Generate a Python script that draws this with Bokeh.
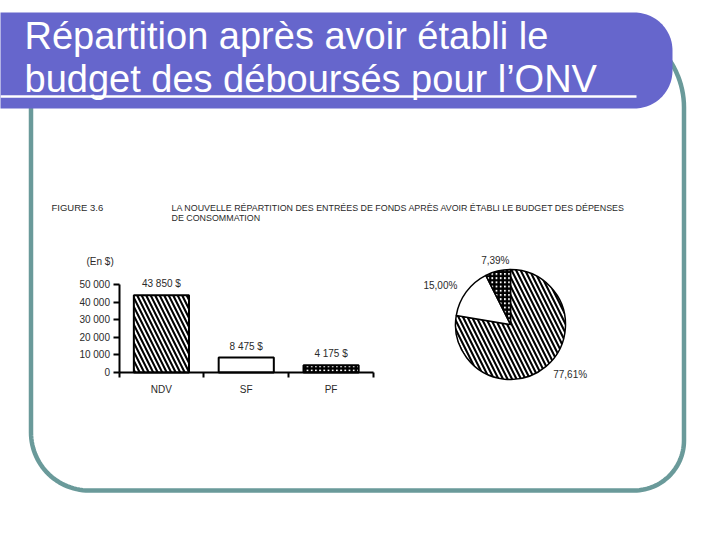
import numpy as np
from bokeh.plotting import figure
from bokeh.models import Range1d, LinearAxis, FixedTicker, ColumnDataSource
from bokeh.embed import file_html
from bokeh.resources import INLINE
from bokeh.core.properties import value

# ---------------- data ----------------
title_lines = ["Répartition après avoir établi le", "budget des déboursés pour l’ONV"]
figure_label = "FIGURE  3.6"
caption_lines = ["LA NOUVELLE RÉPARTITION DES ENTRÉES DE FONDS APRÈS AVOIR ÉTABLI LE BUDGET DES DÉPENSES",
                 "DE CONSOMMATION"]
unit_label = "(En $)"
categories = ["NDV", "SF", "PF"]
amounts = [43850, 8475, 4175]
y_ticks = [0, 10000, 20000, 30000, 40000, 50000]

# ---------------- styles ----------------
FONT = value("Liberation Sans")
INK = "#2a2a2a"
fills = ["white", "white", "white"]
hatches = ["left_diagonal_line", "blank", "cross"]
hatch_scales = [9.0, 6.0, 4.2]
hatch_weights = [2.1, 1.0, 2.6]

W, H = 704, 524
X0, Y0 = 0, 0


def span(px_a, px_b, v_a, v_b, c_lo, c_hi):
    k = (v_b - v_a) / (px_b - px_a)
    return Range1d(start=v_a + (c_lo - px_a) * k, end=v_a + (c_hi - px_a) * k)


p = figure(width=W, height=H, x_range=Range1d(X0, X0 + W), y_range=Range1d(Y0 + H, Y0),
           output_backend="svg", toolbar_location=None, x_axis_location=None,
           y_axis_location=None, min_border=0, outline_line_color=None)
p.grid.visible = False
p.background_fill_color = "white"

# ranges for bar chart and pie (layout placement)
p.extra_x_ranges = {"bx": span(118.5, 373, 0, 3, X0, X0 + W),
                    "px": span(510, 565, 0, 1, X0, X0 + W)}
p.extra_y_ranges = {"by": span(372, 284, 0, 50000, Y0 + H, Y0),
                    "py": span(324, 269, 0, 1, Y0 + H, Y0)}


def rrect(l, t, r, b, rtl, rtr, rbr, rbl, n=30):
    xs, ys = [], []
    for (cx, cy, R, a0, a1) in [(r - rtr, t + rtr, rtr, -90, 0), (r - rbr, b - rbr, rbr, 0, 90),
                                (l + rbl, b - rbl, rbl, 90, 180), (l + rtl, t + rtl, rtl, 180, 270)]:
        a = np.radians(np.linspace(a0, a1, n))
        xs += list(cx + R * np.cos(a))
        ys += list(cy + R * np.sin(a))
    return xs, ys


# slide frame
fx, fy = rrect(30.5, 22, 683.5, 490, 85, 85, 50, 58)
p.patch(fx, fy, fill_alpha=0, line_color="#6a9a9a", line_width=4.5)
# header
hx, hy = rrect(-10, 12, 672, 108, 0, 38, 38, 0)
p.patch(hx, hy, fill_color="#6666cc", line_color=None)
p.segment(x0=[0], y0=[96], x1=[636], y1=[96], line_color="white", line_width=2.5)
p.text(x=[24, 24], y=[35, 78], text=title_lines, text_font=FONT, text_font_size="38px",
       text_color="white", text_baseline="alphabetic")

# figure caption
p.text(x=[51], y=[207], text=[figure_label], text_font=FONT, text_font_size="9.5px",
       text_color=INK, text_baseline="middle")
p.text(x=[171, 171], y=[207, 217], text=caption_lines, text_font=FONT, text_font_size="8.9px",
       text_color=INK, text_baseline="middle")
p.text(x=[86], y=[261], text=[unit_label], text_font=FONT, text_font_size="10px",
       text_color=INK, text_baseline="middle")

# ---------------- bar chart ----------------
xc = [i + 0.5 for i in range(len(categories))]
bar_labels = [f"{v:,} $".replace(",", " ") for v in amounts]
bsrc = ColumnDataSource(dict(x=xc, top=amounts, fill=fills, hatch=hatches,
                             hs=hatch_scales, hw=hatch_weights, lab=bar_labels))
p.vbar(x="x", top="top", bottom=0, width=0.65, source=bsrc, x_range_name="bx", y_range_name="by",
       fill_color="fill", hatch_pattern="hatch", hatch_color="black", hatch_scale="hs",
       hatch_weight="hw", line_color="black", line_width=2)
p.text(x="x", y="top", text="lab", source=bsrc, x_range_name="bx", y_range_name="by",
       y_offset=-6, text_align="center", text_baseline="bottom", text_font=FONT,
       text_font_size="10px", text_color=INK)

yaxis = LinearAxis(x_range_name="bx", y_range_name="by", fixed_location=0, bounds=(0, 50000),
                   ticker=FixedTicker(ticks=y_ticks, minor_ticks=[]),
                   major_label_overrides={t: f"{t:,}".replace(",", " ") for t in y_ticks})
yaxis.major_tick_in = 0
yaxis.major_tick_out = 6
yaxis.major_tick_line_width = 2
yaxis.axis_line_width = 2
yaxis.major_label_standoff = 3
yaxis.major_label_text_font = "Liberation Sans"
yaxis.major_label_text_font_size = "10px"
yaxis.major_label_text_color = INK
p.add_layout(yaxis, "left")

xaxis = LinearAxis(x_range_name="bx", y_range_name="by", fixed_location=0, bounds=(0, 3),
                   ticker=FixedTicker(ticks=xc, minor_ticks=[0, 1, 2, 3]),
                   major_label_overrides={x: c for x, c in zip(xc, categories)})
xaxis.major_tick_in = 0
xaxis.major_tick_out = 0
xaxis.minor_tick_in = 0
xaxis.minor_tick_out = 5
xaxis.minor_tick_line_width = 2
xaxis.axis_line_width = 2
xaxis.major_label_standoff = 6
xaxis.major_label_text_font = "Liberation Sans"
xaxis.major_label_text_font_size = "10px"
xaxis.major_label_text_color = INK
p.add_layout(xaxis, "below")

# ---------------- pie chart ----------------
total = float(sum(amounts))
frac = np.array(amounts) / total
cum = np.concatenate([[0], np.cumsum(frac)])
starts = np.pi / 2 - 2 * np.pi * cum[:-1]
ends = np.pi / 2 - 2 * np.pi * cum[1:]
mids = 2 * np.pi * (cum[:-1] + cum[1:]) / 2
psrc = ColumnDataSource(dict(s=starts, e=ends, fill=fills, hatch=hatches, hs=hatch_scales,
                             hw=hatch_weights))
p.wedge(x=0, y=0, radius=1, start_angle="s", end_angle="e", direction="clock", source=psrc,
        x_range_name="px", y_range_name="py", fill_color="fill", hatch_pattern="hatch",
        hatch_color="black", hatch_scale="hs", hatch_weight="hw", line_color="black",
        line_width=1.5)

pct_labels = [f"{100 * f:.2f}%".replace(".", ",") for f in frac]
r_lab = 1.2
lx = r_lab * np.sin(mids)
ly = r_lab * np.cos(mids)
aligns = ["left" if v > 0.3 else ("right" if v < -0.3 else "center") for v in lx]
lsrc = ColumnDataSource(dict(x=lx, y=ly, t=pct_labels, a=aligns))
p.text(x="x", y="y", text="t", text_align="a", source=lsrc, x_range_name="px", y_range_name="py",
       text_baseline="middle", text_font=FONT, text_font_size="10px", text_color=INK)

open("out.html", "w").write(file_html(p, INLINE))
